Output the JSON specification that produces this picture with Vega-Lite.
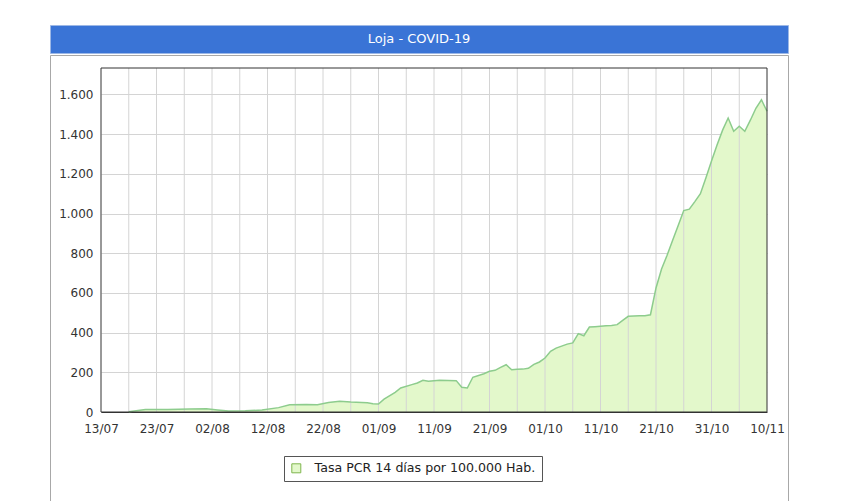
{
  "$schema": "https://vega.github.io/schema/vega-lite/v6.json",
  "padding": {"left": 49, "top": 24, "right": 0, "bottom": 0},
  "spacing": 0,
  "background": "white",
  "config": {
    "font": "DejaVu Sans",
    "locale": {"number": {"decimal": ",", "thousands": ".", "grouping": [3], "currency": ["", " €"]}},
    "axis": {"labelFont": "DejaVu Sans", "labelFontSize": 12, "labelColor": "#333333", "ticks": false, "domain": false, "title": null, "gridColor": "#d4d4d4", "gridWidth": 1, "zindex": 1},
    "legend": {"labelFont": "DejaVu Sans", "labelFontSize": 12.6, "labelColor": "#222222", "labelLimit": 500}
  },
  "vconcat": [
    {
      "width": 738,
      "height": 28,
      "view": {"fill": "#3a74d6", "stroke": "#9db8e6"},
      "data": {"values": [{"title": "Loja - COVID-19"}]},
      "mark": {"type": "text", "color": "white", "font": "DejaVu Sans", "fontSize": 13, "baseline": "middle", "align": "center"},
      "encoding": {"text": {"field": "title", "type": "nominal"}}
    },
    {
      "width": 738,
      "height": 448,
      "view": {"fill": "white", "stroke": "#a8a8a8"},
      "data": {"values": [
        {"date": "2020-07-18", "v": 1},
        {"date": "2020-07-21", "v": 12},
        {"date": "2020-07-25", "v": 13},
        {"date": "2020-07-29", "v": 15},
        {"date": "2020-08-01", "v": 16},
        {"date": "2020-08-03", "v": 10},
        {"date": "2020-08-05", "v": 5},
        {"date": "2020-08-08", "v": 6},
        {"date": "2020-08-11", "v": 10},
        {"date": "2020-08-14", "v": 22},
        {"date": "2020-08-16", "v": 36},
        {"date": "2020-08-19", "v": 38},
        {"date": "2020-08-21", "v": 37},
        {"date": "2020-08-23", "v": 48},
        {"date": "2020-08-25", "v": 54},
        {"date": "2020-08-27", "v": 50},
        {"date": "2020-08-30", "v": 46},
        {"date": "2020-08-31", "v": 42},
        {"date": "2020-09-01", "v": 40},
        {"date": "2020-09-02", "v": 65},
        {"date": "2020-09-04", "v": 99},
        {"date": "2020-09-05", "v": 121},
        {"date": "2020-09-07", "v": 138},
        {"date": "2020-09-08", "v": 146},
        {"date": "2020-09-09", "v": 160},
        {"date": "2020-09-10", "v": 155},
        {"date": "2020-09-12", "v": 160},
        {"date": "2020-09-15", "v": 158},
        {"date": "2020-09-16", "v": 125},
        {"date": "2020-09-17", "v": 121},
        {"date": "2020-09-18", "v": 175},
        {"date": "2020-09-20", "v": 193},
        {"date": "2020-09-21", "v": 205},
        {"date": "2020-09-22", "v": 210},
        {"date": "2020-09-23", "v": 225},
        {"date": "2020-09-24", "v": 238},
        {"date": "2020-09-25", "v": 213},
        {"date": "2020-09-26", "v": 215},
        {"date": "2020-09-27", "v": 216},
        {"date": "2020-09-28", "v": 220},
        {"date": "2020-09-29", "v": 240},
        {"date": "2020-09-30", "v": 252},
        {"date": "2020-10-01", "v": 272},
        {"date": "2020-10-02", "v": 306},
        {"date": "2020-10-03", "v": 322},
        {"date": "2020-10-04", "v": 332},
        {"date": "2020-10-05", "v": 342},
        {"date": "2020-10-06", "v": 348},
        {"date": "2020-10-07", "v": 395},
        {"date": "2020-10-08", "v": 384},
        {"date": "2020-10-09", "v": 428},
        {"date": "2020-10-10", "v": 430},
        {"date": "2020-10-11", "v": 432},
        {"date": "2020-10-12", "v": 434},
        {"date": "2020-10-13", "v": 436},
        {"date": "2020-10-14", "v": 440},
        {"date": "2020-10-15", "v": 462},
        {"date": "2020-10-16", "v": 482},
        {"date": "2020-10-17", "v": 484},
        {"date": "2020-10-18", "v": 485},
        {"date": "2020-10-19", "v": 485},
        {"date": "2020-10-20", "v": 490},
        {"date": "2020-10-21", "v": 625},
        {"date": "2020-10-22", "v": 720},
        {"date": "2020-10-23", "v": 790},
        {"date": "2020-10-24", "v": 865},
        {"date": "2020-10-25", "v": 940},
        {"date": "2020-10-26", "v": 1015},
        {"date": "2020-10-27", "v": 1022},
        {"date": "2020-10-28", "v": 1060},
        {"date": "2020-10-29", "v": 1100},
        {"date": "2020-10-30", "v": 1180},
        {"date": "2020-10-31", "v": 1265},
        {"date": "2020-11-01", "v": 1345},
        {"date": "2020-11-02", "v": 1420},
        {"date": "2020-11-03", "v": 1481},
        {"date": "2020-11-04", "v": 1414},
        {"date": "2020-11-05", "v": 1440},
        {"date": "2020-11-06", "v": 1414},
        {"date": "2020-11-07", "v": 1470},
        {"date": "2020-11-08", "v": 1530},
        {"date": "2020-11-09", "v": 1573},
        {"date": "2020-11-10", "v": 1515}
      ]},
      "layer": [
        {
          "mark": {"type": "area"},
          "encoding": {
            "x": {
              "field": "date", "type": "temporal",
              "scale": {"type": "utc", "domain": [{"year": 2020, "month": 7, "date": 13, "utc": true}, {"year": 2020, "month": 11, "date": 10, "utc": true}], "range": [51, 717]},
              "axis": {
                "orient": "bottom", "offset": -91, "labelPadding": 11, "grid": false,
                "values": [
                  {"year": 2020, "month": 7, "date": 13, "utc": true},
                  {"year": 2020, "month": 7, "date": 23, "utc": true},
                  {"year": 2020, "month": 8, "date": 2, "utc": true},
                  {"year": 2020, "month": 8, "date": 12, "utc": true},
                  {"year": 2020, "month": 8, "date": 22, "utc": true},
                  {"year": 2020, "month": 9, "date": 1, "utc": true},
                  {"year": 2020, "month": 9, "date": 11, "utc": true},
                  {"year": 2020, "month": 9, "date": 21, "utc": true},
                  {"year": 2020, "month": 10, "date": 1, "utc": true},
                  {"year": 2020, "month": 10, "date": 11, "utc": true},
                  {"year": 2020, "month": 10, "date": 21, "utc": true},
                  {"year": 2020, "month": 10, "date": 31, "utc": true},
                  {"year": 2020, "month": 11, "date": 10, "utc": true}
                ],
                "labelExpr": "utcFormat(datum.value, '%d/%m')",
                "labelOverlap": false,
                "labelFlush": false
              }
            },
            "y": {
              "field": "v", "type": "quantitative",
              "scale": {"domain": [0, 1733], "range": [357, 13], "nice": false, "zero": true},
              "axis": {
                "orient": "left", "offset": -51, "labelPadding": 8, "format": ",d",
                "values": [0, 200, 400, 600, 800, 1000, 1200, 1400, 1600],
                "gridColor": {"condition": {"test": "datum.value === 0", "value": "#333333"}, "value": "#d4d4d4"}
              }
            },
            "color": {
              "datum": "Tasa PCR 14 días por 100.000 Hab.",
              "type": "nominal",
              "scale": {"range": ["#e3f8cb"]},
              "legend": {
                "title": null, "orient": "none", "legendX": 234, "legendY": 431,
                "fillColor": "white", "strokeColor": "#555555", "padding": 6,
                "symbolType": "square", "symbolSize": 81, "labelOffset": 12,
                "encode": {"symbols": {"update": {"fill": {"value": "#b4e67e"}, "stroke": {"value": "#7fb64e"}, "strokeWidth": {"value": 1}}}}
              }
            }
          }
        },
        {
          "data": {"values": [
            {"d": "2020-07-18"}, {"d": "2020-07-23"}, {"d": "2020-07-28"}, {"d": "2020-08-02"},
            {"d": "2020-08-07"}, {"d": "2020-08-12"}, {"d": "2020-08-17"}, {"d": "2020-08-22"},
            {"d": "2020-08-27"}, {"d": "2020-09-01"}, {"d": "2020-09-06"}, {"d": "2020-09-11"},
            {"d": "2020-09-16"}, {"d": "2020-09-21"}, {"d": "2020-09-26"}, {"d": "2020-10-01"},
            {"d": "2020-10-06"}, {"d": "2020-10-11"}, {"d": "2020-10-16"}, {"d": "2020-10-21"},
            {"d": "2020-10-26"}, {"d": "2020-10-31"}, {"d": "2020-11-05"}
          ]},
          "mark": {"type": "rule", "color": "#d4d4d4", "strokeWidth": 1},
          "encoding": {
            "x": {"field": "d", "type": "temporal"},
            "y": {"datum": 0, "type": "quantitative"},
            "y2": {"datum": 1733}
          }
        },
        {
          "mark": {"type": "line", "color": "#8dcc8d", "strokeWidth": 1.5},
          "encoding": {
            "x": {"field": "date", "type": "temporal"},
            "y": {"field": "v", "type": "quantitative"}
          }
        },
        {
          "data": {"values": [{"start": "2020-07-13", "end": "2020-11-10", "lo": 0, "hi": 1733}]},
          "mark": {"type": "rect", "fillOpacity": 0, "stroke": "#333333", "strokeWidth": 1},
          "encoding": {
            "x": {"field": "start", "type": "temporal"},
            "x2": {"field": "end"},
            "y": {"field": "lo", "type": "quantitative"},
            "y2": {"field": "hi"}
          }
        }
      ]
    }
  ]
}
